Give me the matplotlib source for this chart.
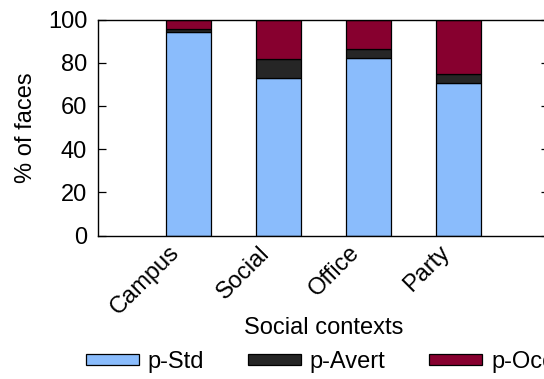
import matplotlib
import matplotlib.pyplot as plt
import matplotlib.transforms as mtransforms
import numpy as np

matplotlib.use("Agg")

contexts = ["Campus", "Social", "Office", "Party"]
p_std = [94.0, 73.0, 82.2, 70.4]
p_avert = [1.8, 8.9, 4.0, 4.3]
p_occ = [100 - s - a for s, a in zip(p_std, p_avert)]

BLUE = "#8abcfc"
DARK = "#262626"
CRIMSON = "#87002f"

plt.rcParams.update({
    "font.family": ["Liberation Sans", "DejaVu Sans"],
    "font.size": 17,
})

fig = plt.figure(figsize=(5.44, 3.79), dpi=100)
# right spine sits just past the right edge of the picture, as in the original crop
ax = fig.add_axes([98.3 / 544, 1 - 235.7 / 379, 450.2 / 544, 216.2 / 379])

x = np.arange(1, len(contexts) + 1)
kw = dict(width=0.5, edgecolor="black", linewidth=0.9)
b1 = ax.bar(x, p_std, color=BLUE, label="p-Std", **kw)
b2 = ax.bar(x, p_avert, bottom=p_std, color=DARK, label="p-Avert", **kw)
bottom2 = [s + a for s, a in zip(p_std, p_avert)]
b3 = ax.bar(x, p_occ, bottom=bottom2, color=CRIMSON, label="p-Occ", **kw)

ax.set_xlim(0, 5)
ax.set_ylim(0, 100)
ax.set_yticks([0, 20, 40, 60, 80, 100])
ax.tick_params(axis="y", direction="in", length=6, width=0.9, right=True, pad=8)
ax.set_xticks(x)
ax.set_xticklabels(contexts, rotation=45, ha="right", va="center", rotation_mode="anchor")
ax.tick_params(axis="x", length=0, pad=10)
shift = mtransforms.ScaledTranslation(-0.12, 0, fig.dpi_scale_trans)
for lbl in ax.get_xticklabels():
    lbl.set_transform(lbl.get_transform() + shift)
for s in ax.spines.values():
    s.set_linewidth(1.0)

ax.set_ylabel("% of faces", labelpad=8)
ax.set_xlabel("Social contexts")
ax.xaxis.set_label_coords((324 - 98.3) / 450.2, -(328 - 235.7) / 216.2)
ax.xaxis.label.set_va("center")

fig.legend(handles=[b1, b2, b3], loc="center left", bbox_to_anchor=(86 / 544, 1 - 361.7 / 379),
           ncol=3, frameon=False, handlelength=2.25, handleheight=0.33,
           columnspacing=1.85, handletextpad=0.37, borderaxespad=0, borderpad=0)

fig.savefig("out.png", dpi=100)
